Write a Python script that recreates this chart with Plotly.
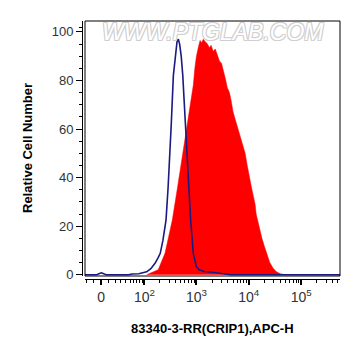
import numpy as np
import plotly.graph_objects as go

# Display positions are in axis units (decades on the biexponential scale)
red_x = [2.05, 2.15, 2.27, 2.40, 2.54, 2.64, 2.72, 2.76, 2.79, 2.82, 2.86, 2.90, 2.94,
         2.97, 3.00, 3.04, 3.07, 3.10, 3.13, 3.17, 3.21, 3.25, 3.28, 3.32, 3.36, 3.40,
         3.44, 3.48, 3.52, 3.55, 3.59, 3.63, 3.66, 3.70, 3.74, 3.78, 3.82, 3.87, 3.93,
         3.97, 4.01, 4.05, 4.09, 4.12, 4.14, 4.17, 4.21, 4.25, 4.30, 4.34, 4.40, 4.46,
         4.52, 4.60, 4.70]
red_y = [0, 0.8, 2, 8.8, 22.5, 36, 47, 52, 56, 61, 66, 73, 78,
         85, 90, 94, 96.5, 95.5, 97, 96, 95, 93.5, 94.5, 92, 93, 90.5,
         88, 87, 84, 81, 77, 75, 72, 67, 64, 61, 59, 55, 50,
         45, 40, 36, 32, 29, 25, 22, 18, 15, 11.5, 8.8, 5, 2.8,
         1.3, 0.4, 0]

blue_x = [0.874, 1.10, 1.15, 1.19, 1.23, 1.28, 1.70, 1.78, 1.90, 1.99, 2.05, 2.13, 2.21,
          2.27, 2.31, 2.36, 2.42, 2.46, 2.50, 2.52, 2.56, 2.60, 2.63, 2.655, 2.68, 2.71,
          2.74, 2.77, 2.79, 2.81, 2.85, 2.89, 2.94, 3.00, 3.05, 3.15, 3.30, 3.45, 3.58,
          3.65, 5.74]
blue_y = [0, 0, 0.5, 0.8, 0.4, 0, 0, 0.3, 0.4, 0.8, 1.2, 2.5, 4.7,
          7, 8.8, 14, 22.5, 36, 50, 62, 82, 92, 96, 97, 95, 90,
          82, 70, 62, 50, 36, 22.5, 8.8, 3.3, 2, 1.3, 1, 0.6, 0.2,
          0, 0]

major_vals = [0, 100, 1000, 10000, 100000]
major_text = ["0", "10<sup>2</sup>", "10<sup>3</sup>", "10<sup>4</sup>", "10<sup>5</sup>"]
minor_vals = sorted(set([-20, -10] + [m * 10 ** k for k in range(1, 6) for m in range(1, 10)]
                        + [200000, 300000, 400000, 500000]) - set(major_vals))
y_major = [0, 20, 40, 60, 80, 100]
y_minor = [5, 10, 15, 25, 30, 35, 45, 50, 55, 65, 70, 75, 85, 90, 95, 102]


def biex(v):
    return 1.18 + np.arcsinh(np.asarray(v, dtype=float) / 30.3) / np.log(10)


x_range = [0.874, 5.74]
major_pos = [float(p) for p in biex(major_vals)]
minor_pos = [float(p) for p in biex(minor_vals) if x_range[0] <= p <= x_range[1]]

fig = go.Figure()
fig.add_trace(go.Scatter(x=red_x, y=red_y, mode="lines", fill="tozeroy",
                         fillcolor="#ff0000", line=dict(color="#ff0000", width=0.5),
                         hoverinfo="skip"))
fig.add_trace(go.Scatter(x=blue_x, y=blue_y, mode="lines",
                         line=dict(color="#1a1a80", width=1.6), hoverinfo="skip"))

# page body has an 8px margin, so the figure is laid out 8px smaller
W, H = 353, 348
ml, mr, mt, mb = 62, 21, 13, 65
pw, ph = W - ml - mr, H - mt - mb
off = 15
gap = 3

fig.update_layout(
    width=W, height=H,
    margin=dict(l=ml, r=mr, t=mt, b=mb, autoexpand=False),
    paper_bgcolor="white", plot_bgcolor="white",
    showlegend=False,
    font=dict(family="Liberation Sans, Arial, sans-serif", color="#333333"),
    xaxis=dict(
        domain=[off / pw, 1], range=x_range, anchor="free", position=(off - gap) / ph,
        showgrid=False, zeroline=False, showline=True, linecolor="black", linewidth=1,
        tickmode="array", tickvals=major_pos, ticktext=major_text,
        ticks="outside", ticklen=5, tickwidth=1.5, tickcolor="black",
        tickfont=dict(size=14, color="#333333"),
        minor=dict(tickmode="array", tickvals=minor_pos, ticks="outside", ticklen=3,
                   tickwidth=1, tickcolor="black", showgrid=False),
    ),
    yaxis=dict(
        domain=[off / ph, 1], range=[-0.54, 104.5], anchor="free", position=(off - gap) / pw,
        showgrid=False, zeroline=False, showline=True, linecolor="black", linewidth=1,
        tickmode="array", tickvals=y_major,
        ticks="outside", ticklen=6, tickwidth=1, tickcolor="black",
        tickfont=dict(size=13, color="#333333"),
        minor=dict(tickmode="array", tickvals=y_minor,
                   ticks="outside", ticklen=3, tickwidth=1, tickcolor="black", showgrid=False),
    ),
)

fig.add_shape(type="rect", xref="x domain", yref="y domain", x0=0, x1=1, y0=0, y1=1,
              line=dict(color="black", width=1), fillcolor="rgba(0,0,0,0)", layer="above")

fig.add_annotation(text="WWW.PTGLAB.COM", xref="x domain", yref="y domain", x=0.5, y=0.955,
                   showarrow=False, xanchor="center", yanchor="middle",
                   font=dict(size=23, color="white", style="italic",
                             family="Liberation Sans, Arial, sans-serif",
                             shadow="1px 1px 0 #cfcfcf, -1px -1px 0 #cfcfcf, 1px -1px 0 #cfcfcf, -1px 1px 0 #cfcfcf"))

fig.add_annotation(text="<b>83340-3-RR(CRIP1),APC-H</b>", xref="paper", yref="paper",
                   x=(off + pw) / 2 / pw, y=(H - mb - 320) / ph, showarrow=False,
                   xanchor="center", yanchor="middle",
                   font=dict(size=13, color="black"))
fig.add_annotation(text="<b>Relative Cell Number</b>", xref="paper", yref="paper",
                   x=(19 - ml) / pw, y=(H - mb - 140) / ph, showarrow=False, textangle=-90,
                   xanchor="center", yanchor="middle",
                   font=dict(size=13, color="black"))

fig.write_html("out.html")
